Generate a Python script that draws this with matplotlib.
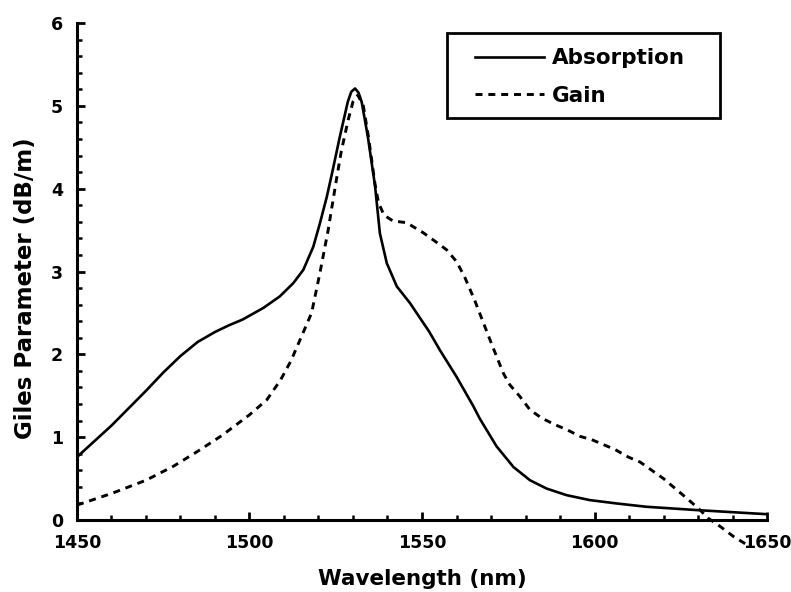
import matplotlib
matplotlib.use("Agg")
from matplotlib import pyplot as plt
from matplotlib.patches import Rectangle

# Absorption (solid)
abs_wl = [1450, 1455, 1460, 1465, 1470, 1475, 1480, 1485, 1490, 1494, 1498, 1504,
          1508.8, 1512.7, 1515.6, 1518.5, 1520.4, 1522.4, 1524, 1526.2, 1528.5,
          1529.5, 1530.6, 1531.6, 1532.5, 1534.3, 1536.4, 1537.8, 1539.8, 1542.7,
          1546.5, 1549.4, 1552, 1555.2, 1560, 1564.8, 1566.8, 1571.6, 1576.5, 1581.3,
          1586.1, 1591.9, 1598.7, 1606.4, 1615, 1629.6, 1650]
abs_val = [0.76, 0.95, 1.14, 1.35, 1.56, 1.78, 1.98, 2.15, 2.27, 2.35, 2.42, 2.56,
           2.70, 2.86, 3.02, 3.30, 3.58, 3.90, 4.20, 4.63, 5.05,
           5.17, 5.21, 5.16, 5.05, 4.63, 4.03, 3.46, 3.10, 2.82,
           2.62, 2.44, 2.28, 2.05, 1.73, 1.38, 1.22, 0.89, 0.64, 0.48,
           0.38, 0.30, 0.24, 0.20, 0.16, 0.12, 0.07]

# Gain (dashed)
gain_wl = [1450, 1460, 1470, 1478, 1485, 1492, 1500, 1505, 1509, 1512, 1514.6, 1518,
           1520.4, 1522.8, 1525.2, 1526.6, 1528.6, 1530, 1531.4, 1533, 1534.5, 1536.4,
           1537.4, 1539, 1541.6, 1545.5, 1550.3, 1554.3, 1557.2, 1560, 1562.3, 1565.2,
           1567.8, 1570.7, 1573.6, 1575.5, 1578.4, 1581.3, 1584.7, 1588.6, 1592,
           1595.8, 1599.2, 1602.6, 1606, 1609.8, 1613.2, 1616.6, 1620, 1623.4, 1626.8,
           1630.1, 1633, 1636.5, 1640.3, 1645]
gain_val = [0.18, 0.32, 0.48, 0.65, 0.83, 1.02, 1.27, 1.45, 1.69, 1.92, 2.17, 2.50,
            2.98, 3.50, 4.11, 4.45, 4.83, 5.05, 5.13, 5.00, 4.62, 4.05,
            3.83, 3.68, 3.61, 3.59, 3.47, 3.35, 3.26, 3.12, 2.94, 2.66,
            2.38, 2.07, 1.77, 1.63, 1.49, 1.33, 1.23, 1.15, 1.09,
            1.01, 0.97, 0.91, 0.85, 0.76, 0.70, 0.60, 0.50, 0.38, 0.26,
            0.14, 0.02, -0.08, -0.20, -0.32]

x_ticks = [1450, 1500, 1550, 1600, 1650]
y_ticks = [0, 1, 2, 3, 4, 5, 6]

plt.rcParams["font.family"] = ["DejaVu Sans"]
plt.rcParams["font.weight"] = "bold"

fig = plt.figure(figsize=(7.91, 5.92), dpi=100)
ax = fig.add_axes([0.0973, 0.1216, 0.8724, 0.8395])

ax.plot(abs_wl, abs_val, color="black", lw=1.9, label="Absorption")
ax.plot(gain_wl, gain_val, color="black", lw=2.1, ls=(0, (2.4, 2.0)),
        label="Gain", clip_on=False)

ax.set_xlim(1450, 1650)
ax.set_ylim(0, 6)
ax.set_xticks(x_ticks)
ax.set_yticks(y_ticks)
ax.set_xticks(range(1450, 1651, 10), minor=True)
ax.set_yticks([i * 0.2 for i in range(31)], minor=True)

for side in ["top", "right"]:
    ax.spines[side].set_visible(False)
for side in ["left", "bottom"]:
    ax.spines[side].set_linewidth(2.2)

ax.tick_params(which="major", direction="in", length=6, width=2, labelsize=12.5, pad=10)
ax.tick_params(which="minor", direction="in", length=3.5, width=1.8)
for lab in ax.get_xticklabels() + ax.get_yticklabels():
    lab.set_fontweight("bold")

ax.set_xlabel("Wavelength (nm)", fontsize=15.5, fontweight="bold", labelpad=12)
ax.set_ylabel("Giles Parameter (dB/m)", fontsize=16.5, fontweight="bold")
ax.yaxis.set_label_coords(-0.058, 0.467)

# legend box drawn separately so the side padding can be wider than the top/bottom
ax.add_patch(Rectangle((0.536, 0.809), 0.396, 0.171, transform=ax.transAxes,
                       fill=False, edgecolor="black", lw=2, clip_on=False, zorder=5))
leg = ax.legend(loc="upper left", bbox_to_anchor=(0.577, 0.949), borderaxespad=0,
                frameon=False, handlelength=3.2, handletextpad=0.35, borderpad=0,
                labelspacing=0.8, prop={"weight": "bold", "size": 15.5})

plt.savefig("out.png", dpi=100)
